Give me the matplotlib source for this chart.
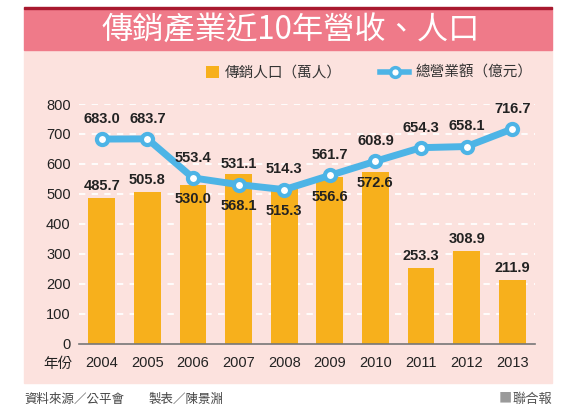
import matplotlib
matplotlib.use("Agg")
import matplotlib.pyplot as plt
from matplotlib.patches import Rectangle, Patch
from matplotlib.lines import Line2D
from matplotlib.legend_handler import HandlerPatch

# ---- data ----
years = ["2004", "2005", "2006", "2007", "2008", "2009", "2010", "2011", "2012", "2013"]
population = [485.7, 505.8, 530.0, 568.1, 515.3, 556.6, 572.6, 253.3, 308.9, 211.9]   # 傳銷人口（萬人）
revenue = [683.0, 683.7, 553.4, 531.1, 514.3, 561.7, 608.9, 654.3, 658.1, 716.7]      # 總營業額（億元）
yticks = [0, 100, 200, 300, 400, 500, 600, 700, 800]

title = "傳銷產業近10年營收、人口"
legend_labels = ["傳銷人口（萬人）", "總營業額（億元）"]
source_text = "資料來源／公平會"
maker_text = "製表／陳景淵"
brand_mark = "■"
brand_text = "聯合報"
x_title = "年份"

CJK = ["Noto Sans CJK TC", "DejaVu Sans"]
NUM = ["Liberation Sans", "DejaVu Sans"]

BAR_C = "#F7B01C"
LINE_C = "#4DB4E6"
BODY_C = "#FCE2DE"
BAND_C = "#EF7A89"
DARK_C = "#A8192E"

W, H = 568, 416
fig = plt.figure(figsize=(W / 100, H / 100), dpi=100)
fig.patch.set_facecolor("white")

def fx(px):
    return px / W

def fy(py):
    return 1 - py / H

# background panels
fig.patches.append(Rectangle((fx(24), fy(383)), fx(552) - fx(24), fy(50) - fy(383),
                             transform=fig.transFigure, color=BODY_C, zorder=-3))
fig.patches.append(Rectangle((fx(24), fy(50)), fx(552) - fx(24), fy(9) - fy(50),
                             transform=fig.transFigure, color=BAND_C, zorder=-3))
fig.patches.append(Rectangle((fx(24), fy(9)), fx(552) - fx(24), fy(7) - fy(9),
                             transform=fig.transFigure, color=DARK_C, zorder=-3))

fig.text(fx(291), fy(31), title, ha="center", va="center", color="white",
         fontsize=22.5, family=CJK, fontweight="medium")

ax = fig.add_axes([fx(79), fy(343.8), fx(535) - fx(79), fy(104) - fy(343.8)])
ax.set_facecolor("none")
x = list(range(len(years)))

ax.bar(x, population, width=0.59, color=BAR_C, zorder=2)
ax.plot(x, revenue, color=LINE_C, lw=5, marker="o", ms=8, mfc="white",
        mec=LINE_C, mew=3, zorder=4, solid_capstyle="round")

ax.set_xlim(-0.5, len(years) - 0.5)
ax.set_ylim(0, 800)
ax.set_yticks(yticks)
ax.set_yticklabels([str(v) for v in yticks], family=NUM, fontsize=10.5, color="#222")
ax.set_xticks(x)
ax.set_xticklabels(years, family=NUM, fontsize=10.5, color="#222")
ax.tick_params(axis="both", length=0)
ax.tick_params(axis="y", pad=6)
ax.tick_params(axis="x", pad=9)
for g in yticks[1:]:
    ax.axhline(g, color="white", lw=1.3, ls=(0, (3.5, 3.5)), zorder=1)
for s in ["top", "right", "left"]:
    ax.spines[s].set_visible(False)
ax.spines["bottom"].set_color("#777")
ax.spines["bottom"].set_linewidth(1.2)
ax.spines["bottom"].set_zorder(3)

lab_kw = dict(family=NUM, fontsize=10.5, fontweight="bold", color="#222",
              ha="center", va="center", textcoords="offset points",
              annotation_clip=False, zorder=5)
for i in x:
    ax.annotate(f"{revenue[i]:.1f}", (i, revenue[i]), xytext=(0, 14.5), **lab_kw)
    if abs(revenue[i] - population[i]) < 100:
        ax.annotate(f"{population[i]:.1f}", (i, revenue[i]), xytext=(0, -15.5), **lab_kw)
    else:
        ax.annotate(f"{population[i]:.1f}", (i, population[i]), xytext=(0, 8.5), **lab_kw)

fig.text(fx(73), fy(364), x_title, ha="right", va="center", family=CJK,
         fontsize=10.5, color="#222")


def square_patch(legend, orig_handle, xdescent, ydescent, width, height, fontsize):
    s = 9.0
    return Rectangle((-xdescent + width - s, -ydescent + (height - s) / 2), s, s)


handles = [Patch(facecolor=BAR_C, edgecolor="none"),
           Line2D([0], [0], color=LINE_C, lw=4, marker="o", ms=7, mfc="white",
                  mec=LINE_C, mew=2.5)]
fig.legend(handles, legend_labels, loc="center right", bbox_to_anchor=(fx(546), fy(73)),
           ncol=2, frameon=False, prop={"family": CJK, "size": 10.5},
           handlelength=2.0, handleheight=0.8, handletextpad=0.45, columnspacing=2.6,
           labelcolor="#333",
           handler_map={Patch: HandlerPatch(patch_func=square_patch)})

fig.text(fx(24), fy(399), source_text, ha="left", va="center", family=CJK,
         fontsize=9, color="#444")
fig.text(fx(149), fy(399), maker_text, ha="left", va="center", family=CJK,
         fontsize=9, color="#444")
bt = fig.text(fx(552), fy(399), brand_text, ha="right", va="center", family=CJK,
              fontsize=9.5, color="#555")
fig.canvas.draw()
bb = bt.get_window_extent()
fig.text(bb.x0 / W, fy(399), brand_mark, ha="right", va="center", family=CJK,
         fontsize=9.5, color="#9a9a9a")

fig.savefig("out.png", dpi=100)
